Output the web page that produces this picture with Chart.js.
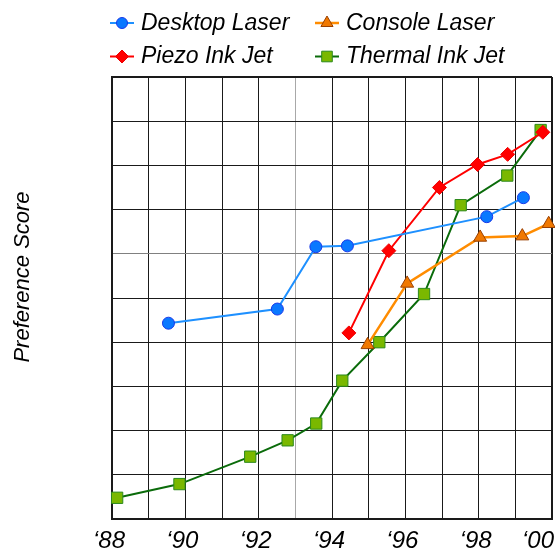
<!DOCTYPE html>
<html>
<head>
<meta charset="utf-8">
<script src="https://cdn.jsdelivr.net/npm/chart.js@4/dist/chart.umd.min.js"></script>
<style>
  html, body { margin: 0; padding: 0; background: #ffffff; }
  #wrap { width: 555px; height: 552px; }
</style>
</head>
<body>
<div id="wrap"><canvas id="c" width="555" height="552"></canvas></div>
<script>
// ---- data ----
const seriesNames = ["Desktop Laser", "Console Laser", "Piezo Ink Jet", "Thermal Ink Jet"];

const desktopYears  = [1989.54, 1992.51, 1993.56, 1994.42, 1998.22, 1999.22];
const desktopScores = [4.43, 4.75, 6.16, 6.18, 6.84, 7.27];

const consoleYears  = [1994.97, 1996.05, 1998.04, 1999.19, 1999.91];
const consoleScores = [3.94, 5.33, 6.37, 6.40, 6.68];

const piezoYears  = [1994.46, 1995.55, 1996.93, 1997.97, 1998.79, 1999.75];
const piezoScores = [4.21, 6.07, 7.50, 8.02, 8.25, 8.75];

const thermalYears  = [1988.14, 1989.84, 1991.77, 1992.79, 1993.57, 1994.28, 1995.29, 1996.51, 1997.51, 1998.78, 1999.69];
const thermalScores = [0.48, 0.79, 1.41, 1.78, 2.16, 3.13, 4.00, 5.09, 7.10, 7.77, 8.80];

const xTickYears  = [1988, 1990, 1992, 1994, 1996, 1998, 2000];
const xTickLabels = ["\u201888", "\u201890", "\u201892", "\u201894", "\u201896", "\u201898", "\u201800"];
const yAxisTitle = "Preference Score";

const xMin = 1988, xMax = 2000, yMin = 0, yMax = 10;

function pairs(xs, ys) { return xs.map((x, i) => ({ x: x, y: ys[i] })); }

const FONT = '"Liberation Sans", Arial, Helvetica, sans-serif';

const datasets = [
  {
    label: seriesNames[0], data: pairs(desktopYears, desktopScores),
    borderColor: '#1e90ff', borderWidth: 2,
    pointStyle: 'circle', pointRadius: 6, pointBackgroundColor: '#0a78ff',
    pointBorderColor: '#1838e8', pointBorderWidth: 1
  },
  {
    label: seriesNames[1], data: pairs(consoleYears, consoleScores),
    borderColor: '#ff8c00', borderWidth: 2.5,
    pointStyle: 'triangle', pointRadius: 7.5, pointBackgroundColor: '#f07800',
    pointBorderColor: '#9a4000', pointBorderWidth: 1
  },
  {
    label: seriesNames[2], data: pairs(piezoYears, piezoScores),
    borderColor: '#ff0000', borderWidth: 2,
    pointStyle: 'rectRot', pointRadius: 7, pointBackgroundColor: '#ff0000',
    pointBorderColor: '#ee0000', pointBorderWidth: 1
  },
  {
    label: seriesNames[3], data: pairs(thermalYears, thermalScores),
    borderColor: '#0a6b0a', borderWidth: 2,
    pointStyle: 'rect', pointRadius: 8, pointBackgroundColor: '#7ab800',
    pointBorderColor: '#2c8a1c', pointBorderWidth: 1
  }
];
datasets.forEach(d => { d.fill = false; d.tension = 0; d.clip = false; d.pointHoverRadius = d.pointRadius; });

const overlay = {
  id: 'overlay',
  afterDraw(chart) {
    const ctx = chart.ctx;
    const xs = chart.scales.x;
    const area = chart.chartArea;
    ctx.save();
    // x tick labels
    ctx.font = 'italic 24px ' + FONT;
    ctx.fillStyle = '#000';
    ctx.textAlign = 'center';
    ctx.textBaseline = 'alphabetic';
    xTickYears.forEach((yr, i) => {
      const w = ctx.measureText(xTickLabels[i]).width;
      let cx = xs.getPixelForValue(yr) - 3;
      cx = Math.min(cx, chart.width - 1 - w / 2);
      ctx.fillText(xTickLabels[i], cx, area.bottom + 29);
    });
    // y axis title
    ctx.save();
    ctx.font = 'italic 22px ' + FONT;
    ctx.translate(28.5, (area.top + area.bottom) / 2 - 21);
    ctx.rotate(-Math.PI / 2);
    ctx.fillText(yAxisTitle, 0, 0);
    ctx.restore();
    // legend (two columns, two rows)
    const colX = [122, 327];
    const rowY = [23, 56.5];
    chart.data.datasets.forEach((ds, i) => {
      const cx = colX[i % 2], cy = rowY[Math.floor(i / 2)];
      ctx.beginPath();
      ctx.strokeStyle = ds.borderColor;
      ctx.lineWidth = ds.borderWidth;
      ctx.moveTo(cx - 12, cy);
      ctx.lineTo(cx + 12, cy);
      ctx.stroke();
      ctx.fillStyle = ds.pointBackgroundColor;
      ctx.strokeStyle = ds.pointBorderColor;
      ctx.lineWidth = ds.pointBorderWidth;
      Chart.helpers.drawPoint(ctx, {
        pointStyle: ds.pointStyle, radius: ds.pointRadius - 0.5,
        borderWidth: ds.pointBorderWidth, rotation: 0
      }, cx, cy);
      ctx.fillStyle = '#000';
      ctx.font = 'italic 23px ' + FONT;
      ctx.textAlign = 'left';
      ctx.textBaseline = 'alphabetic';
      ctx.fillText(ds.label, cx + 19, cy + 6.5 + (i >= 2 ? -0.5 : 0) + 0);
    });
    ctx.restore();
  }
};

const gridDark = '#1a1a1a';

new Chart(document.getElementById('c'), {
  type: 'line',
  data: { datasets: datasets },
  options: {
    responsive: false,
    devicePixelRatio: 1,
    animation: false,
    events: [],
    layout: { autoPadding: false, padding: { top: 77, left: 112, right: 3, bottom: 33 } },
    plugins: { legend: { display: false }, tooltip: { enabled: false } },
    scales: {
      x: {
        type: 'linear', min: xMin, max: xMax,
        ticks: { display: false, stepSize: 1 },
        grid: {
          drawTicks: false,
          color: c => (c.tick && c.tick.value === 1993) ? '#a8a8a8' : gridDark,
          lineWidth: c => (c.tick && c.tick.value === xMax) ? 2 : 1
        },
        border: { display: true, color: gridDark, width: 2 }
      },
      y: {
        type: 'linear', min: yMin, max: yMax,
        ticks: { display: false, stepSize: 1 },
        grid: {
          drawTicks: false,
          color: c => (c.tick && c.tick.value === 6) ? '#808080' : gridDark,
          lineWidth: c => (c.tick && c.tick.value === yMax) ? 2 : 1
        },
        border: { display: true, color: gridDark, width: 2 }
      }
    }
  },
  plugins: [overlay]
});
</script>
</body>
</html>
